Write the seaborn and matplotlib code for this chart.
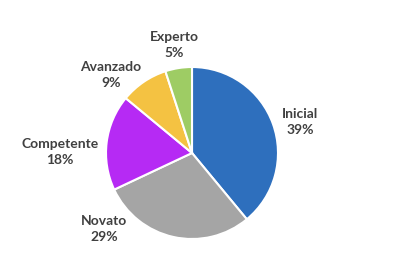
import matplotlib
matplotlib.use("Agg")
import matplotlib.pyplot as plt
import seaborn as sns

categories = ["Inicial", "Novato", "Competente", "Avanzado", "Experto"]
values = [39, 29, 18, 9, 5]
colors = ["#2E6FBD", "#A5A5A5", "#B62AF4", "#F4C242", "#9ECC64"]

# label anchor positions in pixels (x, y from top)
label_pos = [(300, 122), (104, 229), (60, 152), (111, 75), (174, 45)]

sns.set_theme(style="white")
plt.rcParams['font.family'] = ['Lato', 'DejaVu Sans']

W, H = 420, 270
fig = plt.figure(figsize=(W / 100, H / 100), dpi=100)
ax = fig.add_axes([0, 0, 1, 1])
ax.pie(values, colors=colors, startangle=90, counterclock=False,
       center=(192, H - 153), radius=86,
       wedgeprops=dict(edgecolor="white", linewidth=1.5))
ax.set_xlim(0, W)
ax.set_ylim(0, H)
ax.set_aspect("equal")
ax.axis("off")

for cat, v, (px, py) in zip(categories, values, label_pos):
    ax.text(px, H - py, f"{cat}\n{v}%", ha="center", va="center",
            fontsize=10, fontweight="bold", color="#404040", linespacing=1.4)

fig.savefig("out.png", dpi=100, facecolor="white")
